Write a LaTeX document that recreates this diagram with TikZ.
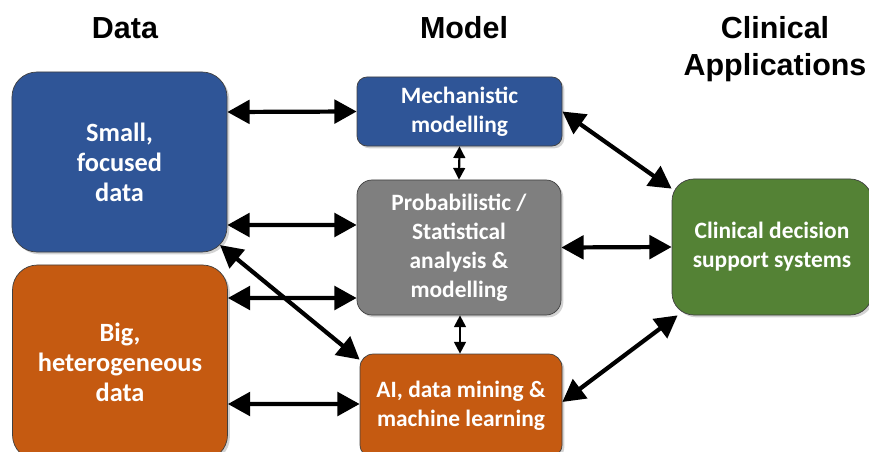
\documentclass[tikz,border=0pt]{standalone}
\usepackage{fontspec}
\setmainfont{Carlito}
\newfontfamily\headfont{Liberation Sans}
\usetikzlibrary{arrows.meta,shadows}
\definecolor{boxblue}{HTML}{2F5597}
\definecolor{boxorange}{HTML}{C55A11}
\definecolor{boxgray}{HTML}{7F7F7F}
\definecolor{boxgreen}{HTML}{548235}

\begin{document}
\begin{tikzpicture}[x=0.03cm,y=-0.03cm,
  box/.style={draw=black!75,line width=0.6pt,text=white,align=center,font=\fontsize{20}{24.7}\selectfont\bfseries,drop shadow={shadow xshift=0.07cm,shadow yshift=-0.07cm,opacity=0.35}},
  databox/.style={box,font=\fontsize{22.5}{25.5}\selectfont\bfseries,minimum width=6.45cm,rounded corners=0.75cm},
  head/.style={font=\headfont\fontsize{26}{32}\selectfont\bfseries,align=center,inner sep=0pt},
  link/.style={<->,>={Triangle[length=19pt,width=20pt]},line width=3.6pt},
  thinlink/.style={<->,>={Triangle[length=10pt,width=10pt]},line width=1.8pt}]
  \useasboundingbox (0,0) rectangle (869,452);

  \node[head,anchor=base] (h1) at (125,39) {Data};
  \node[head,anchor=base] (h2) at (464,39) {Model};
  \node[head,anchor=north] (h3) at (775,16) {Clinical\\Applications};

  \node[databox,fill=boxblue,minimum height=5.4cm] (d1) at (119.5,162) {Small,\\focused\\data};
  \node[databox,fill=boxorange,minimum height=5.85cm] (d2) at (120,362.5) {Big,\\heterogeneous\\data};

  \node[box,fill=boxblue,minimum width=6.15cm,minimum height=2.07cm,rounded corners=0.3cm] (m1) at (459.5,111.5) {Mechanistic\\modelling};
  \node[box,fill=boxgray,minimum width=6.12cm,minimum height=4.05cm,rounded corners=0.45cm] (m2) at (459,247.5) {Probabilistic /\\Statistical\\analysis \&\\modelling};
  \node[box,fill=boxorange,minimum width=6.06cm,minimum height=3.12cm,rounded corners=0.4cm] (m3) at (461,406) {AI, data mining \&\\machine learning};

  \node[box,fill=boxgreen,minimum width=6cm,minimum height=4.08cm,rounded corners=0.66cm] (c1) at (772,247) {Clinical decision\\support systems};

  \draw[link] ([yshift=1.5cm]d1.east) -- (m1.west);
  \draw[link] ([yshift=-1.89cm]d1.east) -- ([yshift=0.675cm]m2.west);
  \draw[link] ([yshift=1.935cm]d2.east) -- ([yshift=-1.515cm]m2.west);
  \draw[link] ([yshift=-1.245cm]d2.east) -- ([yshift=0.06cm]m3.west);
  \draw[link] ([shift={(-7.3,-7.3)}]d1.south east) -- ([yshift=-0.18cm]m3.north west);
  \draw[thinlink] (m1.south) -- (m2.north);
  \draw[thinlink] ([xshift=0.03cm]m2.south) -- ([xshift=-0.03cm]m3.north);
  \draw[link] (m1.east) -- ([yshift=-0.3cm]c1.north west);
  \draw[link] (m2.east) -- (c1.west);
  \draw[link] ([yshift=0.12cm]m3.east) -- ([xshift=0.18cm]c1.south west);
\end{tikzpicture}
\end{document}
